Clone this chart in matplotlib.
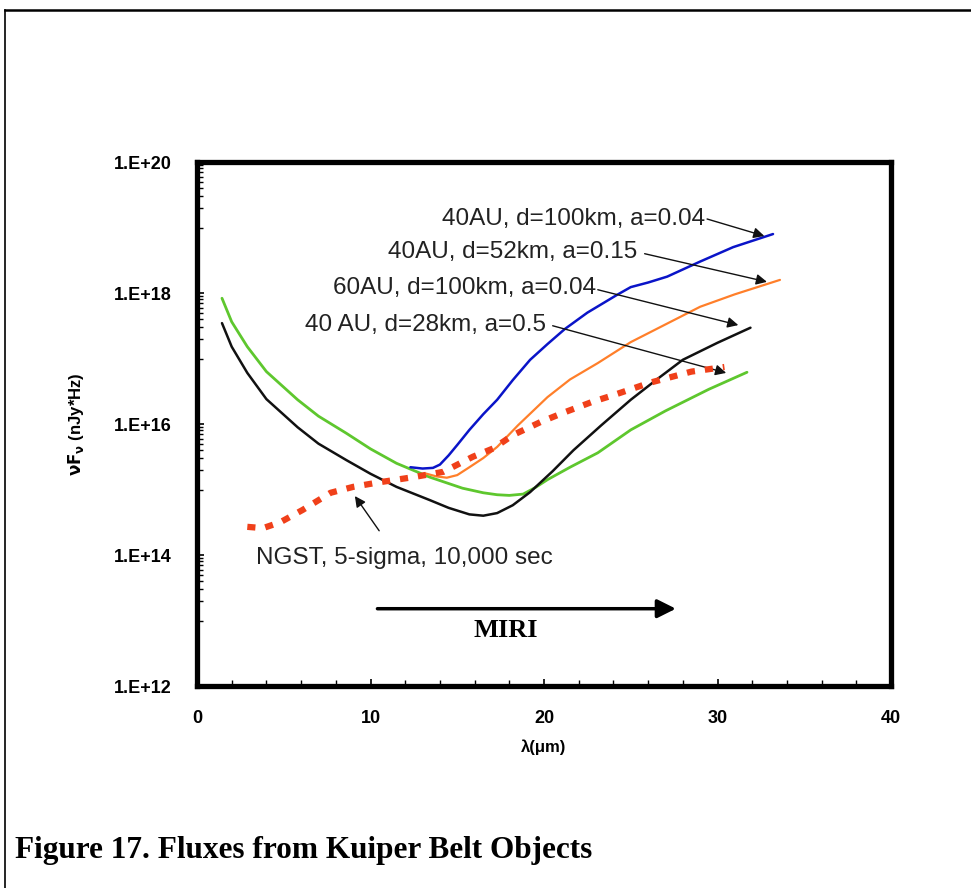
import matplotlib
matplotlib.use("Agg")
import matplotlib.pyplot as plt
from matplotlib.lines import Line2D
from matplotlib.ticker import FixedLocator, NullFormatter, FuncFormatter
import numpy as np

# ---- data ----
blue_x = [12.3, 13.0, 13.6, 14.0, 14.5, 15.0, 15.7, 16.5, 17.3, 18.2, 19.2, 20.2, 21.2, 22.5, 24.2, 25.0, 26.0, 27.1, 29.0, 30.9, 33.2]
blue_y = [15.34, 15.32, 15.33, 15.38, 15.52, 15.68, 15.91, 16.15, 16.37, 16.67, 16.98, 17.22, 17.45, 17.70, 17.97, 18.09, 18.16, 18.25, 18.48, 18.70, 18.90]

orange_x = [13.1, 13.8, 14.4, 15.0, 15.7, 16.5, 17.3, 18.5, 20.2, 21.5, 23.1, 25.0, 27.0, 29.0, 31.0, 33.6]
orange_y = [15.25, 15.20, 15.18, 15.22, 15.34, 15.48, 15.65, 15.98, 16.41, 16.68, 16.93, 17.25, 17.52, 17.79, 17.98, 18.20]

black_x = [1.44, 2.0, 2.9, 4.0, 5.8, 7.0, 8.6, 10.0, 11.5, 13.4, 14.5, 15.7, 16.5, 17.3, 18.2, 19.2, 20.5, 21.7, 23.3, 25.0, 26.5, 28.0, 30.0, 31.9]
black_y = [17.54, 17.18, 16.78, 16.38, 15.95, 15.70, 15.45, 15.24, 15.04, 14.84, 14.72, 14.62, 14.60, 14.64, 14.76, 14.96, 15.28, 15.60, 15.98, 16.37, 16.68, 16.98, 17.24, 17.47]

green_x = [1.44, 2.0, 2.9, 4.0, 5.8, 7.0, 8.6, 10.0, 11.5, 13.4, 15.3, 16.5, 17.3, 18.0, 18.8, 19.5, 20.2, 21.5, 23.1, 25.0, 27.0, 29.5, 31.7]
green_y = [17.92, 17.56, 17.18, 16.80, 16.37, 16.12, 15.86, 15.62, 15.40, 15.19, 15.02, 14.95, 14.92, 14.91, 14.93, 15.03, 15.15, 15.34, 15.56, 15.91, 16.20, 16.53, 16.79]

ngst_x = [2.9, 3.8, 4.8, 6.1, 7.7, 9.0, 10.5, 12.5, 14.2, 15.9, 17.1, 18.2, 19.8, 21.1, 22.8, 24.0, 26.1, 28.5, 30.4]
ngst_y = [14.43, 14.41, 14.50, 14.69, 14.95, 15.04, 15.11, 15.19, 15.27, 15.50, 15.63, 15.83, 16.03, 16.17, 16.34, 16.44, 16.63, 16.80, 16.87]

labels = ["40AU, d=100km, a=0.04", "40AU, d=52km, a=0.15",
          "60AU, d=100km, a=0.04", "40 AU, d=28km, a=0.5"]
ngst_label = "NGST, 5-sigma, 10,000 sec"
ytick_vals = [12, 14, 16, 18, 20]
ytick_labels = ["1.E+12", "1.E+14", "1.E+16", "1.E+18", "1.E+20"]
xtick_vals = [0, 10, 20, 30, 40]

W, H = 971, 888
fig = plt.figure(figsize=(W / 100, H / 100), dpi=100)
ax = fig.add_axes([197 / W, 1 - 686 / H, 694 / W, 524 / H])

def p(v):
    return 10 ** np.array(v)

kw = dict(solid_joinstyle="round", solid_capstyle="round")
ax.plot(blue_x, p(blue_y), color="#0a14c8", lw=1.8, zorder=3, **kw)
ax.plot(orange_x, p(orange_y), color="#ff7f2a", lw=1.6, zorder=3, **kw)
ax.plot(black_x, p(black_y), color="#111111", lw=1.8, zorder=3, **kw)
ax.plot(green_x, p(green_y), color="#5ec72e", lw=2.0, zorder=2, **kw)
ax.plot(ngst_x, p(ngst_y), color="#f0401a", lw=4.5, ls=(0, (1.3, 1.6)), zorder=4)

ax.set_yscale("log")
ax.set_xlim(0, 40)
ax.set_ylim(1e12, 1e20)

for s in ax.spines.values():
    s.set_linewidth(3.8)

ax.yaxis.set_major_locator(FixedLocator([10.0 ** v for v in ytick_vals]))
ax.yaxis.set_major_formatter(FuncFormatter(lambda v, pos: ytick_labels[ytick_vals.index(int(round(np.log10(v))))]))
minor_y = []
for d in range(12, 20, 2):
    for m in range(1, 10):
        minor_y.append(m * 10.0 ** (d + 1))
ax.yaxis.set_minor_locator(FixedLocator(minor_y))
ax.yaxis.set_minor_formatter(NullFormatter())
ax.set_xticks(xtick_vals)
ax.set_xticks(np.arange(2, 40, 2), minor=True)

ax.tick_params(axis="both", which="major", direction="in", length=5, width=1.2,
               labelsize=13)
ax.tick_params(axis="both", which="minor", direction="in", length=4, width=1.0)
ax.tick_params(axis="x", which="major", pad=17)
ax.tick_params(axis="y", which="major", pad=18)
for lab in ax.get_xticklabels() + ax.get_yticklabels():
    lab.set_fontweight("bold")
    lab.set_fontfamily("Liberation Sans")

ax.set_xlabel("λ(μm)", fontsize=12, fontweight="bold", family="Liberation Sans", labelpad=9)
ax.set_ylabel(r"$\mathbf{\nu F_\nu}$ (nJy*Hz)", fontsize=12, fontweight="bold",
              family="Liberation Sans", labelpad=20)

# annotations
tfont = dict(fontsize=17.5, family="Liberation Sans", color="#222222")
ax.text(29.3, 10 ** 19.13, labels[0], ha="right", va="center", **tfont)
ax.text(25.4, 10 ** 18.63, labels[1], ha="right", va="center", **tfont)
ax.text(23.0, 10 ** 18.08, labels[2], ha="right", va="center", **tfont)
ax.text(20.1, 10 ** 17.51, labels[3], ha="right", va="center", **tfont)
ax.text(3.4, 10 ** 13.95, ngst_label, ha="left", va="center", **tfont)

aprops = dict(arrowstyle="-|>", color="#111111", lw=1.0, mutation_scale=16, shrinkA=0, shrinkB=0)
arrows = [((29.4, 19.13), (32.7, 18.87)),
          ((25.8, 18.60), (32.85, 18.17)),
          ((23.1, 18.05), (31.2, 17.51)),
          ((20.5, 17.50), (30.5, 16.78)),
          ((10.5, 14.37), (9.1, 14.90))]
for (x0, y0), (x1, y1) in arrows:
    ax.annotate("", xy=(x1, 10 ** y1), xytext=(x0, 10 ** y0), arrowprops=aprops)

# MIRI arrow
ax.annotate("", xy=(27.6, 10 ** 13.18), xytext=(10.4, 10 ** 13.18),
            arrowprops=dict(arrowstyle="-|>", color="black", lw=2.5, mutation_scale=28,
                            shrinkA=0, shrinkB=0))
ax.text(17.8, 10 ** 12.84, "MIRI", ha="center", va="center", fontsize=19,
        fontweight="bold", family="Liberation Serif")

# caption and frame
fig.text(15 / W, 1 - 850 / H, "Figure 17. Fluxes from Kuiper Belt Objects",
         ha="left", va="center", fontsize=22.5, fontweight="bold", family="Liberation Serif")
fig.add_artist(Line2D([5 / W, 5 / W], [0, 1 - 10 / H], transform=fig.transFigure, color="black", lw=1.2))
fig.add_artist(Line2D([5 / W, 1], [1 - 10 / H, 1 - 10 / H], transform=fig.transFigure, color="black", lw=1.8))

fig.savefig("out.png", dpi=100)
